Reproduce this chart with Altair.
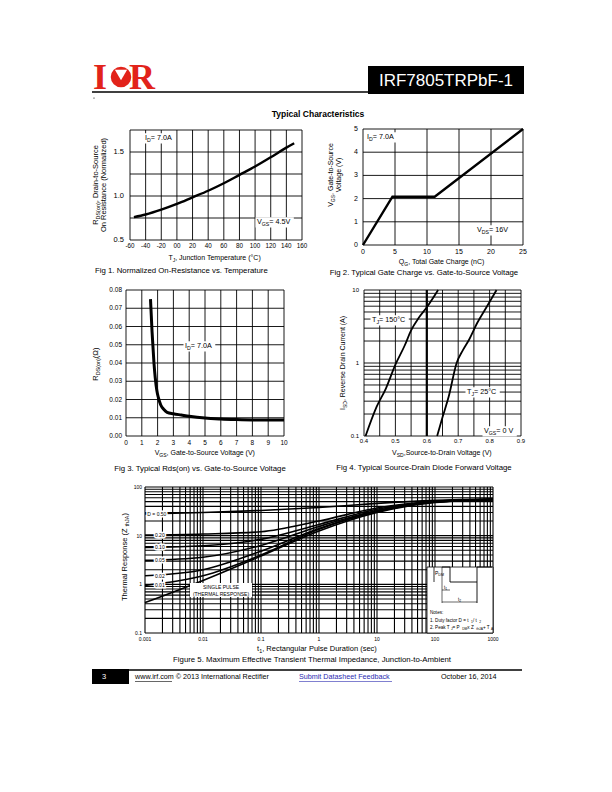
import altair as alt
import pandas as pd

FONT = "Liberation Sans"
W, H = 596, 776

def px(x):
    return x - 8

def py(y):
    return y - 8

ONE = pd.DataFrame({"k": [0]})

# ---------------- data ----------------
# Fig 1
f1_temp = [-55, -40, -20, 0, 20, 40, 60, 80, 100, 120, 140, 150]
f1_rnorm = [0.76, 0.79, 0.845, 0.91, 0.985, 1.06, 1.145, 1.24, 1.335, 1.44, 1.55, 1.60]
# Fig 2
f2_qg = [0, 4.6, 11.2, 25]
f2_vgs = [0, 2.08, 2.08, 5.0]
# Fig 3
f3_vgs = [1.55, 1.6, 1.65, 1.7, 1.77, 1.85, 1.95, 2.05, 2.2, 2.4, 2.6, 3.0, 3.5, 4.0, 5.0, 6.0, 7.0, 8.0, 10.0]
f3_rds = [0.075, 0.066, 0.057, 0.050, 0.040, 0.032, 0.025, 0.021, 0.017, 0.0145, 0.013, 0.0122,
          0.0115, 0.0108, 0.0098, 0.0093, 0.009, 0.0088, 0.0087]
# Fig 4
f4_v150 = [0.405, 0.44, 0.47, 0.50, 0.53, 0.55, 0.575, 0.60, 0.636]
f4_i150 = [0.1, 0.25, 0.45, 0.95, 1.75, 2.8, 4.2, 5.8, 10]
f4_v25 = [0.633, 0.65, 0.67, 0.695, 0.715, 0.735, 0.76, 0.79, 0.822]
f4_i25 = [0.1, 0.18, 0.35, 1.0, 1.5, 2.1, 3.5, 5.8, 10]
# Fig 5
f5_t = [0.001, 0.01, 0.1, 1, 10, 100, 1000]
f5_series = {
    "D = 0.50": [28, 30, 33, 38, 46, 53, 57],
    "0.20": [10.3, 10.8, 12, 20, 37, 51, 56],
    "0.10": [5.7, 6.2, 8.4, 17, 35, 50, 56],
    "0.05": [3.1, 3.6, 6.3, 15.5, 33, 50, 55],
    "0.02": [1.5, 2.0, 4.8, 14, 32, 49, 55],
    "0.01": [0.95, 1.5, 4.0, 13.5, 31, 49, 55],
    "SINGLE": [0.42, 1.2, 3.8, 12.5, 30, 48, 55],
}
f5_labels = ["D = 0.50", "0.20", "0.10", "0.05", "0.02", "0.01"]
f5_label_t = [0.0016, 0.0018, 0.0018, 0.0018, 0.0018, 0.0018]

# ticks / labels / grids
f1_xticks = list(range(-60, 161, 20))
f1_xlabels = ["-60", "-40", "-20", "00", "20", "40", "60", "80", "100", "120", "140", "160"]
f1_yticks = [0.5, 1.0, 1.5]
f1_ylabels = ["0.5", "1.0", "1.5"]
f1_ygrid = [0.5, 0.75, 1.0, 1.25, 1.5, 1.75]
f2_xticks = [0, 5, 10, 15, 20, 25]
f2_xlabels = ["0", "5", "10", "15", "20", "25"]
f2_yticks = [0, 1, 2, 3, 4, 5]
f2_ylabels = ["0", "1", "2", "3", "4", "5"]
f3_xticks = list(range(0, 11))
f3_xlabels = [str(v) for v in range(0, 11)]
f3_yticks = [0, 0.01, 0.02, 0.03, 0.04, 0.05, 0.06, 0.07, 0.08]
f3_ylabels = ["0.00", "0.01", "0.02", "0.03", "0.04", "0.05", "0.06", "0.07", "0.08"]
f4_xticks = [0.4, 0.5, 0.6, 0.7, 0.8, 0.9]
f4_xlabels = ["0.4", "0.5", "0.6", "0.7", "0.8", "0.9"]
f4_xgrid = [0.4, 0.45, 0.5, 0.55, 0.6, 0.65, 0.7, 0.75, 0.8, 0.85, 0.9]
f4_yticks = [0.1, 1, 10]
f4_ylabels = ["0.1", "1", "10"]
f5_xticks = [0.001, 0.01, 0.1, 1, 10, 100, 1000]
f5_xlabels = ["0.001", "0.01", "0.1", "1", "10", "100", "1000"]
f5_yticks = [0.1, 1, 10, 100]
f5_ylabels = ["0.1", "1", "10", "100"]


def log_grid(decades):
    out = []
    for d in decades[:-1]:
        for m in range(1, 10):
            out.append(round(d * m, 6))
    out.append(decades[-1])
    return out

f4_ygrid = log_grid([0.1, 1, 10])
f5_xgrid = log_grid(f5_xticks)
f5_ygrid = log_grid(f5_yticks)

# ---------------- helpers ----------------
CW = {" ": 278, "!": 278, "(": 333, ")": 333, ",": 278, "-": 333, ".": 278, "/": 278,
      "=": 584, "+": 584, "°": 400, "Ω": 768, ":": 278,
      "A": 667, "B": 667, "C": 722, "D": 722, "E": 667, "F": 611, "G": 778, "H": 722,
      "I": 278, "J": 500, "K": 667, "L": 556, "M": 833, "N": 722, "O": 778, "P": 667,
      "Q": 778, "R": 722, "S": 667, "T": 611, "U": 722, "V": 667, "W": 944, "X": 667,
      "Y": 667, "Z": 611, "a": 556, "b": 556, "c": 500, "d": 556, "e": 556, "f": 278,
      "g": 556, "h": 556, "i": 222, "j": 222, "k": 500, "l": 222, "m": 833, "n": 556,
      "o": 556, "p": 556, "q": 556, "r": 333, "s": 500, "t": 278, "u": 556, "v": 500,
      "w": 722, "x": 500, "y": 500, "z": 500}


def twidth(s, size):
    return sum(CW.get(c, 556) for c in s) * size / 1000.0


def vrule(x1, y1, x2, y2, w=1.0, color="black"):
    return alt.Chart(ONE).mark_rule(strokeWidth=w, color=color).encode(
        x=alt.value(px(x1)), y=alt.value(py(y1)), x2=alt.value(px(x2)), y2=alt.value(py(y2)))


def vrect(x1, y1, x2, y2, fill="black", stroke=None, sw=0.0):
    kw = {"fill": fill}
    if stroke:
        kw.update(stroke=stroke, strokeWidth=sw)
    return alt.Chart(ONE).mark_rect(**kw).encode(
        x=alt.value(px(x1)), x2=alt.value(px(x2)), y=alt.value(py(y1)), y2=alt.value(py(y2)))


def vtext(x, y, s, size=8, align="left", baseline="middle", weight="normal",
          color="black", angle=0, font=FONT):
    return alt.Chart(ONE).mark_text(text=s, fontSize=size, align=align, baseline=baseline,
                                    fontWeight=weight, color=color, angle=angle, font=font).encode(
        x=alt.value(px(x)), y=alt.value(py(y)))


def rich(x, y, parts, size=7, align="left", angle=0, box=False, color="black"):
    """parts: list of (text, is_subscript)."""
    sizes = [size * 0.72 if sub else size for _, sub in parts]
    widths = [twidth(t, s) for (t, _), s in zip(parts, sizes)]
    total = sum(widths)
    start = -total / 2 if align == "center" else 0.0
    out = []
    if box and angle == 0:
        out.append(vrect(x + start - 1.5, y - size * 0.65, x + start + total + 1.5, y + size * 0.75,
                         fill="white"))
    cur = start
    for (t, sub), s, w in zip(parts, sizes, widths):
        shift = size * 0.3 if sub else 0.0
        if angle == 0:
            out.append(vtext(x + cur, y + shift, t, size=s, color=color))
        else:  # 270: text runs upward
            out.append(vtext(x + shift, y - cur, t, size=s, angle=270, color=color))
        cur += w
    return out


def lin(domain, r):
    return alt.Scale(type="linear", domain=domain, range=[r[0], r[1]], nice=False, zero=False)


def logs(domain, r):
    return alt.Scale(type="log", domain=domain, range=[r[0], r[1]], nice=False)


def grid(xs, ys, xdom, ydom, xg, yg, w=0.9):
    gx = pd.DataFrame({"v": xg})
    gy = pd.DataFrame({"v": yg})
    v = alt.Chart(gx).mark_rule(color="black", strokeWidth=w).encode(
        x=alt.X("v:Q", scale=xs, axis=None),
        y=alt.YDatum(ydom[0], scale=ys, axis=None), y2=alt.Y2Datum(ydom[1]))
    h = alt.Chart(gy).mark_rule(color="black", strokeWidth=w).encode(
        y=alt.Y("v:Q", scale=ys, axis=None),
        x=alt.XDatum(xdom[0], scale=xs, axis=None), x2=alt.X2Datum(xdom[1]))
    return [v, h]


def xlabels(xs, ys, ybase, vals, labs, size=6.5, dy=3):
    df = pd.DataFrame({"v": vals, "s": labs})
    return alt.Chart(df).mark_text(fontSize=size, font=FONT, baseline="top", dy=dy,
                                   color="black").encode(
        x=alt.X("v:Q", scale=xs, axis=None),
        y=alt.YDatum(ybase, scale=ys, axis=None), text="s:N")


def ylabels(xs, ys, xbase, vals, labs, size=6.5, dx=4):
    df = pd.DataFrame({"v": vals, "s": labs})
    return alt.Chart(df).mark_text(fontSize=size, font=FONT, align="right", dx=-dx,
                                   color="black").encode(
        y=alt.Y("v:Q", scale=ys, axis=None),
        x=alt.XDatum(xbase, scale=xs, axis=None), text="s:N")


layers = []

# ---------------- header ----------------
RED = "#e2231a"
layers += [
    vtext(100, 78, "I", size=36, align="center", weight="bold", color=RED, font="Liberation Serif"),
    alt.Chart(ONE).mark_point(filled=True, color=RED, size=420, opacity=1).encode(
        x=alt.value(px(121)), y=alt.value(py(77))),
    alt.Chart(ONE).mark_point(filled=True, color="white", shape="triangle-down", size=150, opacity=1).encode(
        x=alt.value(px(121)), y=alt.value(py(75))),
    vtext(142, 78, "R", size=36, align="center", weight="bold", color=RED, font="Liberation Serif"),
    vrule(92, 92, 368, 92, w=1.6),
    vrect(368, 66, 524, 94, fill="black"),
    vtext(446, 81, "IRF7805TRPbF-1", size=17, align="center", color="white"),
    alt.Chart(ONE).mark_point(filled=True, color="black", size=1.5, opacity=1).encode(
        x=alt.value(px(94)), y=alt.value(py(98))),
    vtext(318, 114, "Typical Characteristics", size=8.5, align="center", weight="bold"),
]

# ---------------- Fig 1 ----------------
xs1 = lin([-60, 160], [px(130), px(302)])
ys1 = lin([0.5, 1.75], [py(240), py(130)])
layers.append(alt.layer(
    *grid(xs1, ys1, [-60, 160], [0.5, 1.75], f1_xticks, f1_ygrid),
    alt.Chart(pd.DataFrame({"t": f1_temp, "r": f1_rnorm})).mark_line(
        color="black", strokeWidth=2.4, interpolate="monotone").encode(
        x=alt.X("t:Q", scale=xs1, axis=None),
        y=alt.Y("r:Q", scale=ys1, axis=None)),
    xlabels(xs1, ys1, 0.5, f1_xticks, f1_xlabels, size=6.3, dy=3),
    ylabels(xs1, ys1, -60, f1_yticks, f1_ylabels, size=7.5, dx=6),
))
layers += rich(145, 138, [("I", False), ("D", True), (" = 7.0A", False)], size=7.2, box=True)
layers += rich(257, 222, [("V", False), ("GS", True), (" = 4.5V", False)], size=7.2, box=True)
layers += rich(96, 185, [("R", False), ("DS(on)", True), (", Drain-to-Source", False)],
               size=7.5, align="center", angle=270)
layers += [vtext(104, 185, "On Resistance (Normalized)", size=7.5, align="center", angle=270)]
layers += rich(215, 258, [("T", False), ("J", True), (", Junction Temperature (°C)", False)],
               size=7, align="center")
layers += [vtext(95, 271, "Fig 1. Normalized On-Resistance vs. Temperature", size=7.8)]

# ---------------- Fig 2 ----------------
xs2 = lin([0, 25], [px(363), px(523)])
ys2 = lin([0, 5], [py(245), py(129)])
layers.append(alt.layer(
    *grid(xs2, ys2, [0, 25], [0, 5], f2_xticks, f2_yticks),
    alt.Chart(pd.DataFrame({"q": f2_qg, "v": f2_vgs})).mark_line(
        color="black", strokeWidth=2.4).encode(
        x=alt.X("q:Q", scale=xs2, axis=None),
        y=alt.Y("v:Q", scale=ys2, axis=None)),
    xlabels(xs2, ys2, 0, f2_xticks, f2_xlabels, size=7, dy=3),
    ylabels(xs2, ys2, 0, f2_yticks, f2_ylabels, size=7, dx=5),
))
layers += rich(367, 137, [("I", False), ("D", True), (" = 7.0A", False)], size=7.2, box=True)
layers += rich(477, 230, [("V", False), ("DS", True), (" = 16V", False)], size=7.2, box=True)
layers += rich(331, 175, [("V", False), ("GS", True), (", Gate-to-Source", False)],
               size=7, align="center", angle=270)
layers += [vtext(339, 175, "Voltage (V)", size=7, align="center", angle=270)]
layers += rich(442, 262, [("Q", False), ("G", True), (", Total Gate Charge (nC)", False)],
               size=7, align="center")
layers += [vtext(424, 273, "Fig 2. Typical Gate Charge vs. Gate-to-Source Voltage", size=7.8,
                 align="center")]

# ---------------- Fig 3 ----------------
xs3 = lin([0, 10], [px(126), px(284)])
ys3 = lin([0, 0.08], [py(436), py(290)])
layers.append(alt.layer(
    *grid(xs3, ys3, [0, 10], [0, 0.08], f3_xticks, f3_yticks),
    alt.Chart(pd.DataFrame({"v": f3_vgs, "r": f3_rds})).mark_line(
        color="black", strokeWidth=3, interpolate="monotone").encode(
        x=alt.X("v:Q", scale=xs3, axis=None),
        y=alt.Y("r:Q", scale=ys3, axis=None)),
    xlabels(xs3, ys3, 0, f3_xticks, f3_xlabels, size=6.5, dy=4),
    ylabels(xs3, ys3, 0, f3_yticks, f3_ylabels, size=6.5, dx=4),
))
layers += rich(185, 346, [("I", False), ("D", True), (" = 7.0A", False)], size=7.2, box=True)
layers += rich(96, 363, [("R", False), ("DS(on)", True), (" (Ω)", False)],
               size=7.5, align="center", angle=270)
layers += rich(205, 453, [("V", False), ("GS", True), (", Gate-to-Source Voltage (V)", False)],
               size=7, align="center")
layers += [vtext(200, 469, "Fig 3. Typical Rds(on) vs. Gate-to-Source Voltage", size=7.8,
                 align="center")]

# ---------------- Fig 4 ----------------
xs4 = lin([0.4, 0.9], [px(364), px(521)])
ys4 = logs([0.1, 10], [py(436), py(290)])
f4_df = pd.DataFrame({
    "v": f4_v150 + f4_v25,
    "i": f4_i150 + f4_i25,
    "c": ["150"] * len(f4_v150) + ["25"] * len(f4_v25),
})
layers.append(alt.layer(
    *grid(xs4, ys4, [0.4, 0.9], [0.1, 10], f4_xgrid, f4_ygrid),
    alt.Chart(pd.DataFrame({"v": [0.6]})).mark_rule(color="black", strokeWidth=2.2).encode(
        x=alt.X("v:Q", scale=xs4, axis=None),
        y=alt.YDatum(0.1, scale=ys4, axis=None), y2=alt.Y2Datum(10)),
    alt.Chart(f4_df).mark_line(color="black", strokeWidth=1.8, interpolate="monotone").encode(
        x=alt.X("v:Q", scale=xs4, axis=None),
        y=alt.Y("i:Q", scale=ys4, axis=None),
        detail="c:N"),
    xlabels(xs4, ys4, 0.1, f4_xticks, f4_xlabels, size=6, dy=2),
    ylabels(xs4, ys4, 0.4, f4_yticks, f4_ylabels, size=6, dx=5),
))
layers += rich(372, 320, [("T", False), ("J", True), (" = 150°C", False)], size=7.2, box=True)
layers += rich(467, 392, [("T", False), ("J", True), (" = 25°C", False)], size=7.2, box=True)
layers += rich(484, 431, [("V", False), ("GS", True), (" = 0 V", False)], size=7.2, box=True)
layers += rich(343, 362, [("I", False), ("SD", True), (" , Reverse Drain Current (A)", False)],
               size=7, align="center", angle=270)
layers += rich(443, 453, [("V", False), ("SD", True), (" ,Source-to-Drain Voltage (V)", False)],
               size=7, align="center")
layers += [vtext(424, 468, "Fig 4. Typical Source-Drain Diode Forward Voltage", size=7.8,
                 align="center")]

# ---------------- Fig 5 ----------------
xs5 = logs([0.001, 1000], [px(145), px(493)])
ys5 = logs([0.1, 100], [py(633), py(487)])
rows = []
for name, vals in f5_series.items():
    for t, z in zip(f5_t, vals):
        rows.append({"t": t, "z": z, "d": name})
f5_df = pd.DataFrame(rows)
f5_lab = pd.DataFrame({
    "t": f5_label_t,
    "z": [f5_series[k][0] * 1.01 for k in f5_labels],
    "s": f5_labels,
})
fig5 = [
    *grid(xs5, ys5, [0.001, 1000], [0.1, 100], f5_xgrid, f5_ygrid, w=1.1),
    alt.Chart(f5_df).mark_line(color="black", strokeWidth=1.6, interpolate="monotone").encode(
        x=alt.X("t:Q", scale=xs5, axis=None),
        y=alt.Y("z:Q", scale=ys5, axis=None),
        detail="d:N"),
    xlabels(xs5, ys5, 0.1, f5_xticks, f5_xlabels, size=5, dy=4),
    ylabels(xs5, ys5, 0.001, f5_yticks, f5_ylabels, size=5, dx=3),
    alt.Chart(f5_lab).mark_text(fontSize=5, font=FONT, stroke="white", strokeWidth=3,
                                fill="white").encode(
        x=alt.X("t:Q", scale=xs5, axis=None), y=alt.Y("z:Q", scale=ys5, axis=None), text="s:N"),
    alt.Chart(f5_lab).mark_text(fontSize=5, font=FONT, color="black").encode(
        x=alt.X("t:Q", scale=xs5, axis=None), y=alt.Y("z:Q", scale=ys5, axis=None), text="s:N"),
]
layers.append(alt.layer(*fig5))
layers += [
    # single pulse box
    vrect(190, 583, 252, 597, fill="white"),
    vtext(221, 587, "SINGLE PULSE", size=5, align="center"),
    vtext(221, 593.5, "(THERMAL RESPONSE)", size=5, align="center"),
    # notes box
    vrect(427, 567, 493, 633, fill="white", stroke="black", sw=0.8),
    vrule(434, 567, 434, 582, w=0.8),
    vrule(442, 567, 450, 567, w=0.9),
    vrule(442, 567, 442, 603, w=0.6),
    vrule(450, 567, 450, 582, w=0.9),
    vrule(450, 582, 477, 582, w=0.9),
    vrule(477, 567, 477, 603, w=0.9),
    vrule(477, 567, 492, 567, w=0.9),
    vrule(442, 590, 450, 590, w=0.6),
    vrule(442, 602, 477, 602, w=0.6),
    vtext(430, 613, "Notes:", size=4.6),
]
layers += rich(435, 573, [("P", False), ("DM", True)], size=5)
layers += rich(444, 588, [("t", False), ("1", True)], size=4.6)
layers += rich(458, 600, [("t", False), ("2", True)], size=4.6)
layers += rich(430, 620.5, [("1. Duty factor D =   t", False), ("1", True), (" / t ", False),
                            ("2", True)], size=4.6)
layers += rich(430, 628, [("2. Peak T ", False), ("J", True), (" = P ", False), ("DM", True),
                          (" x Z ", False), ("thJA", True), (" + T", False), ("A", True)], size=4.6)
layers += rich(125, 556, [("Thermal Response  (Z", False), ("thJA", True), (" )", False)],
               size=7.5, align="center", angle=270)
layers += rich(318, 649, [("t", False), ("1", True), (" , Rectangular Pulse Duration (sec)", False)],
               size=7.5, align="center")
layers += [vtext(312, 660, "Figure 5. Maximum Effective Transient Thermal Impedance, Junction-to-Ambient",
                 size=7.8, align="center")]

# ---------------- footer ----------------
BLUE = "#2a2ab0"
layers += [
    vrect(92, 669, 129, 684, fill="black"),
    vrule(129, 670, 522, 670, w=1.6),
    vtext(104, 677, "3", size=7.5, align="center", color="white"),
    vtext(135, 677, "www.irf.com © 2013 International Rectifier", size=7.2),
    vrule(135, 681.5, 172, 681.5, w=0.6),
    vtext(299, 677, "Submit Datasheet Feedback", size=7.2, color=BLUE),
    vrule(299, 681.5, 392, 681.5, w=0.6, color=BLUE),
    vtext(441, 677, "October 16, 2014", size=7.2),
]

chart = alt.layer(*layers).resolve_scale(x="independent", y="independent").properties(
    width=W, height=H, padding=0, autosize=alt.AutoSizeParams(type="none"),
    background="white",
).configure_view(stroke=None)

chart.save("out.html", embed_options={"renderer": "svg", "actions": False})
